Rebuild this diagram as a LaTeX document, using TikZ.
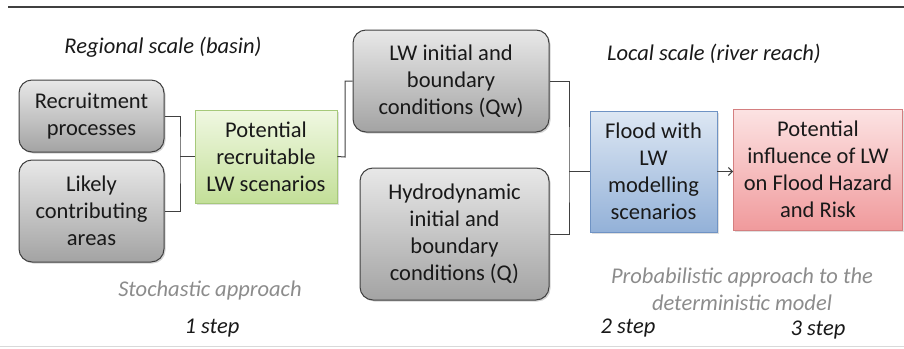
\documentclass[tikz,border=0pt]{standalone}
\usepackage{fontspec}
\setmainfont{Carlito}
\usetikzlibrary{positioning,shadows,arrows.meta}
\definecolor{boxline}{HTML}{404040}
\definecolor{greytop}{HTML}{E8E8E8}
\definecolor{greybot}{HTML}{A3A3A3}
\definecolor{greentop}{HTML}{F0F8E2}
\definecolor{greenbot}{HTML}{C3DF98}
\definecolor{greenline}{HTML}{A6C97A}
\definecolor{bluetop}{HTML}{DDE7F3}
\definecolor{bluebot}{HTML}{93B1D8}
\definecolor{blueline}{HTML}{6F93C4}
\definecolor{redtop}{HTML}{FCE3E3}
\definecolor{redbot}{HTML}{F09A9C}
\definecolor{redline}{HTML}{D47F80}
\definecolor{notegrey}{HTML}{8C8C8C}
\tikzset{
  box text/.style={align=center, inner sep=0pt, font=\fontsize{22.5}{27}\selectfont, text=black!90},
  grey node/.style={box text, rounded corners=13pt, draw=boxline, line width=1pt,
    top color=greytop, bottom color=greybot,
    drop shadow={shadow xshift=1.5pt, shadow yshift=-1.5pt, opacity=0.35}},
  flat node/.style={box text, line width=0.8pt,
    drop shadow={shadow xshift=1.5pt, shadow yshift=-1.5pt, opacity=0.25}},
  scale label/.style={font=\fontsize{22.5}{27}\selectfont\itshape, text=black!90},
  note label/.style={font=\fontsize{22.5}{27}\selectfont\itshape, text=notegrey, align=center},
  link/.style={draw=boxline, line width=1pt}
}

\begin{document}
\begin{tikzpicture}[x=1pt, y=-1pt]
    \useasboundingbox (0,0) rectangle (904,348);
    % frame lines
    \draw[boxline, line width=1.3pt] (8,7) -- (904,7);
    \draw[black!15, line width=1pt] (0,346) -- (904,346);

    % boxes
    \node[grey node, minimum width=145pt, minimum height=72pt] (rec) at (91.5,116) {Recruitment\\processes};
    \node[grey node, minimum width=145pt, minimum height=102pt] (lik) at (91.5,211) {Likely\\contributing\\areas};
    \node[flat node, draw=greenline, top color=greentop, bottom color=greenbot,
          minimum width=142pt, minimum height=93pt] (pot) at (266,156.5) {Potential\\recruitable\\LW scenarios};
    \node[grey node, minimum width=196pt, minimum height=102pt] (lwi) at (451,81) {LW initial and\\boundary\\conditions (Qw)};
    \node[grey node, minimum width=189pt, minimum height=132pt] (hyd) at (454.5,234) {Hydrodynamic\\initial and\\boundary\\conditions (Q)};
    \node[flat node, draw=blueline, top color=bluetop, bottom color=bluebot,
          minimum width=127pt, minimum height=121pt] (flo) at (653.5,171.5) {Flood with\\LW\\modelling\\scenarios};
    \node[flat node, draw=redline, top color=redtop, bottom color=redbot,
          minimum width=169pt, minimum height=121pt] (inf) at (818,169.5) {Potential\\influence of LW\\on Flood Hazard\\and Risk};

    % labels
    \node[scale label] (reg) at (163,47) {Regional scale (basin)};
    \node[scale label] (loc) at (714,54) {Local scale (river reach)};
    \node[note label] (sto) at (210,290) {Stochastic approach};
    \node[note label] (pro) at (742,289.5) {Probabilistic approach to the\\deterministic model};
    \node[scale label] (st1) at (212,328) {1 step};
    \node[scale label] (st2) at (628,328) {2 step};
    \node[scale label] (st3) at (818,330) {3 step};

    % connectors
    \coordinate (j1) at (180,156.5);
    \coordinate (j2) at (345,157);
    \coordinate (j3) at (569,171.5);
    \path[link] (rec.east) -| (j1) |- (lik.east);
    \path[link] (j1) -- (pot.west);
    \path[link] (pot.east) -- (j2) |- (lwi.west);
    \path[link] (lwi.east) -| (j3) |- (hyd.east);
    \path[link] (j3) -- (flo.west);
    \path[link, -{Straight Barb[length=4pt, width=8pt]}] (flo.east) -- (inf.west |- flo.east);
\end{tikzpicture}
\end{document}
